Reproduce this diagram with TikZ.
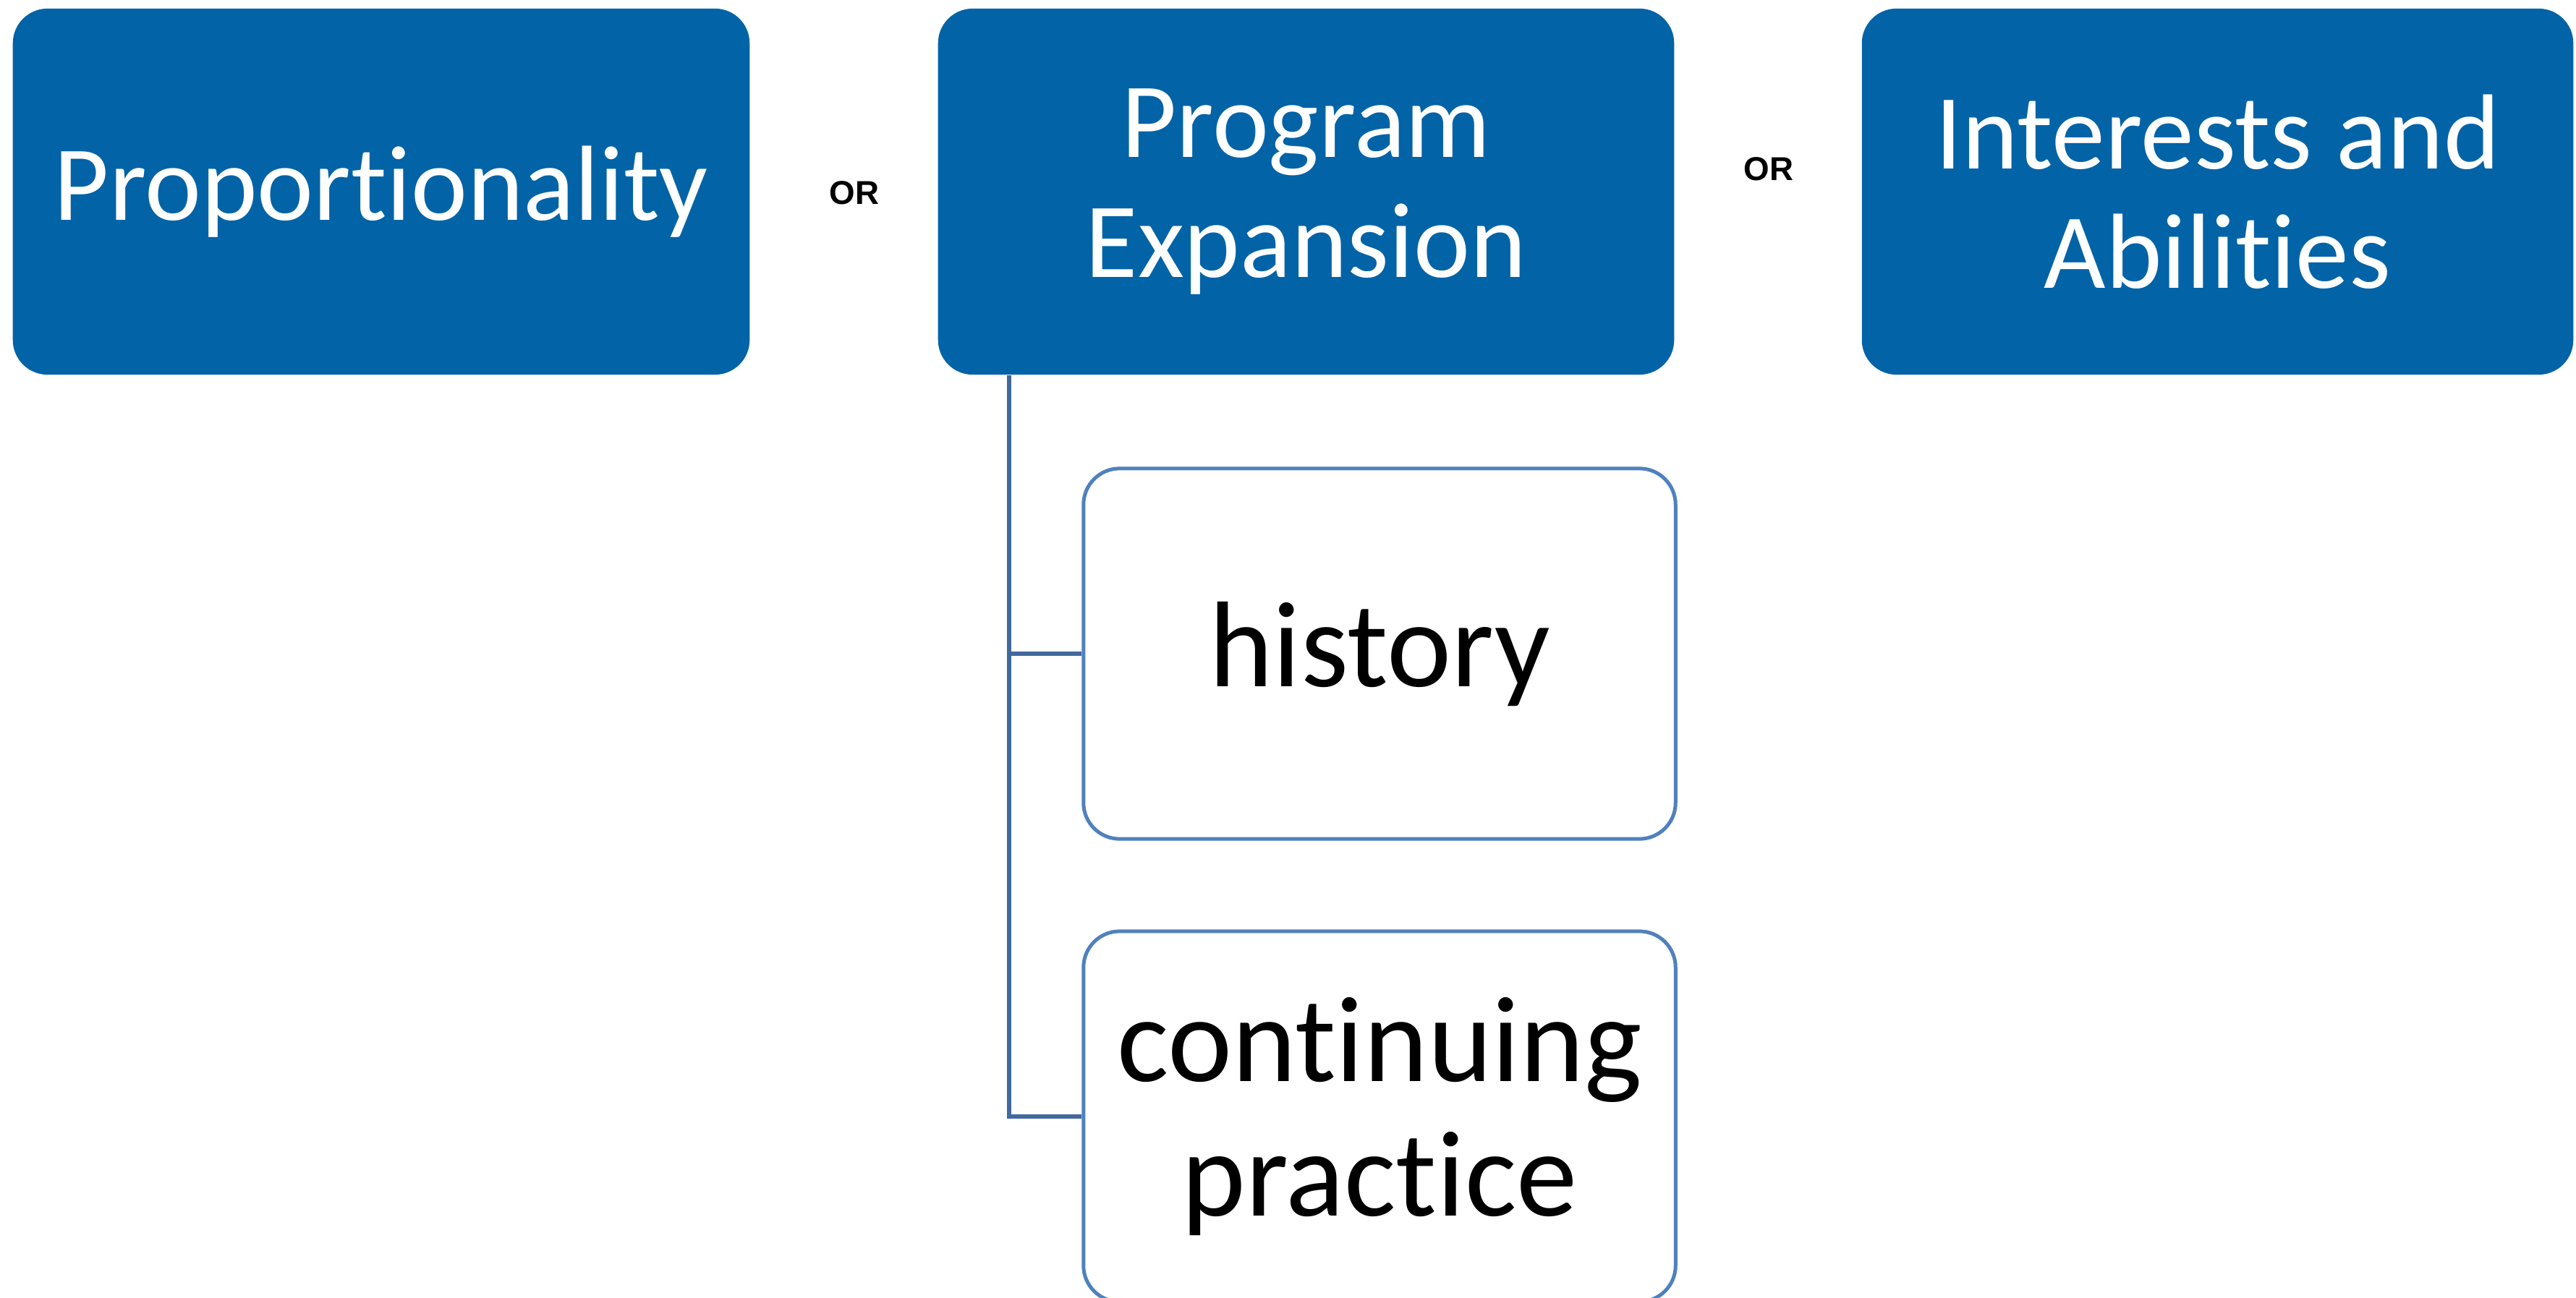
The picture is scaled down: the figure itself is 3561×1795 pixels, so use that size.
\documentclass[tikz,border=0pt]{standalone}
\usepackage{fontspec}
\setmainfont{Carlito}[Ligatures={NoCommon}]
\newfontfamily\orfont{Liberation Sans}
\usetikzlibrary{calc}
\definecolor{topblue}{RGB}{2,99,167}
\definecolor{boxline}{RGB}{79,129,189}
\definecolor{linkline}{RGB}{65,105,156}

\begin{document}
\begin{tikzpicture}[x=0.01cm, y=-0.01cm,
    topbox/.style={rectangle, rounded corners=0.48cm, fill=topblue, text=white, inner sep=0pt,
      minimum height=5.06cm, align=center, font=\fontsize{42}{47}\selectfont},
    subbox/.style={rectangle, rounded corners=0.5cm, draw=boxline, line width=0.05cm, fill=white,
      inner sep=0pt, minimum width=8.18cm, minimum height=5.12cm, align=center,
      font=\fontsize{48}{53}\selectfont},
    orlabel/.style={inner sep=0pt, font=\orfont\bfseries\fontsize{13}{15}\selectfont},
    link/.style={draw=linkline, line width=0.06cm}]
    \useasboundingbox (0,0) rectangle (3561,1795);

    \node[topbox, minimum width=10.18cm] (prop) at (527,265) {Proportionality};
    \node[topbox, minimum width=10.17cm] (prog) at (1805.5,265) {Program\\Expansion};
    \node[topbox, minimum width=9.83cm] (inter) at (3065.5,265) {Interests and\\Abilities};

    \node[orlabel] (or1) at (1181,267) {OR};
    \node[orlabel] (or2) at (2445,234) {OR};

    \node[subbox] (hist) at (1907,904) {history};
    \node[subbox] (cont) at (1907,1544) {continuing\\practice};

    \draw[link] ([xshift=0.99cm]prog.south west) |- (hist.west);
    \draw[link] ([xshift=0.99cm]prog.south west) |- (cont.west);
  \end{tikzpicture}
\end{document}
